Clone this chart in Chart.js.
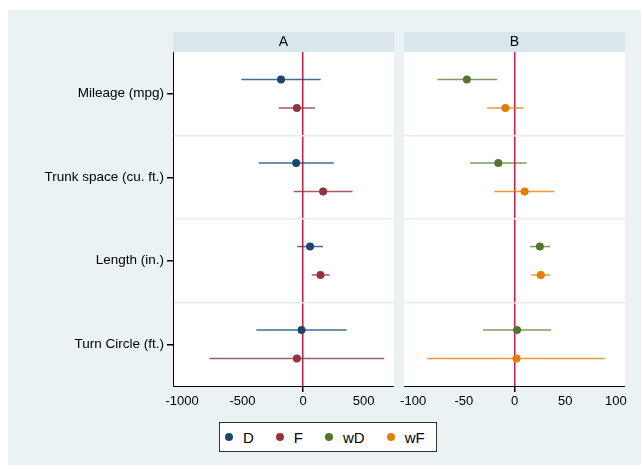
<!DOCTYPE html>
<html>
<head>
<meta charset="utf-8">
<title>Coefficient plot</title>
<script src="https://cdn.jsdelivr.net/npm/chart.js@4/dist/chart.umd.min.js"></script>
<style>
  html, body { margin: 0; padding: 0; background: #fff; }
  #graph { position: absolute; left: 8px; top: 10px; width: 633px; height: 455px; background: #eaf2f3; }
  #canvasA { position: absolute; left: 0; top: 0; }
  #canvasB { position: absolute; left: 390px; top: 0; }
  #legend {
    position: absolute; left: 219px; top: 422px; width: 218px; height: 30px;
    box-sizing: border-box; border: 1px solid #333; background: #fff;
    display: flex; align-items: center; padding-left: 5px;
    font: 15px "Liberation Sans", Arial, sans-serif; color: #000;
  }
  #legend .item { display: flex; align-items: center; margin-right: 22px; }
  #legend .dot { width: 8px; height: 8px; border-radius: 50%; margin-right: 10px; }
</style>
</head>
<body>
<div id="graph"></div>
<canvas id="canvasA" width="400" height="420"></canvas>
<canvas id="canvasB" width="251" height="420"></canvas>
<div id="legend"></div>
<script>
// outcomes, top to bottom
const categories = ['Mileage (mpg)', 'Trunk space (cu. ft.)', 'Length (in.)', 'Turn Circle (ft.)'];

// panel A: estimates with 95% bounds
const dEst = [-182, -57, 58, -12];
const dLo  = [-510, -366, -47, -386];
const dHi  = [146, 254, 165, 361];
const fEst = [-51, 166, 144, -51];
const fLo  = [-201, -77, 72, -774];
const fHi  = [99, 410, 220, 672];

// panel B
const wdEst = [-47, -16, 25, 2.5];
const wdLo  = [-76, -44, 15.5, -31];
const wdHi  = [-17, 12, 35, 36];
const wfEst = [-9, 10, 26, 2];
const wfLo  = [-27, -20, 16.5, -86];
const wfHi  = [9, 39, 35, 89];

const ticksA = [-1000, -500, 0, 500];
const ticksB = [-100, -50, 0, 50, 100];
const rangeA = [-1075, 752];
const rangeB = [-109, 109];

// category centres sit at i + 0.5, band edges at integers
const yTicks = [0.5, 1, 1.5, 2, 2.5, 3, 3.5];

const FONT = '"Liberation Sans", Arial, sans-serif';
const TRANSPARENT = 'rgba(0,0,0,0)';

const seriesA = [
  { name: 'D', color: '#1a476f', line: 'rgba(26,71,111,0.8)', est: dEst, lo: dLo, hi: dHi, shift: -0.17 },
  { name: 'F', color: '#90353b', line: 'rgba(144,53,59,0.8)', est: fEst, lo: fLo, hi: fHi, shift: 0.17 }
];
const seriesB = [
  { name: 'wD', color: '#55752f', line: 'rgba(85,117,47,0.75)', est: wdEst, lo: wdLo, hi: wdHi, shift: -0.17 },
  { name: 'wF', color: '#e37e00', line: 'rgba(227,126,0,0.8)', est: wfEst, lo: wfLo, hi: wfHi, shift: 0.17 }
];

// white plot region plus the shaded strip holding the panel title
const panelBackground = {
  id: 'panelBackground',
  beforeDraw(chart, args, opts) {
    const { ctx, chartArea: a } = chart;
    ctx.save();
    ctx.fillStyle = '#fff';
    ctx.fillRect(a.left, a.top, a.right - a.left, a.bottom - a.top);
    ctx.fillStyle = '#d9e6eb';
    ctx.fillRect(a.left, a.top - 20, a.right - a.left, 20);
    ctx.fillStyle = '#000';
    ctx.font = '14px ' + FONT;
    ctx.textAlign = 'center';
    ctx.textBaseline = 'middle';
    ctx.fillText(opts.title, (a.left + a.right) / 2, a.top - 10);
    ctx.restore();
  }
};

function buildDatasets(series) {
  const sets = [];
  series.forEach(s => {
    sets.push({
      type: 'scatter',
      label: s.name,
      data: s.est.map((v, i) => ({ x: v, y: i + 0.5 + s.shift })),
      backgroundColor: s.color,
      borderWidth: 0,
      pointRadius: 4,
      order: 0
    });
    s.est.forEach((v, i) => {
      sets.push({
        type: 'scatter',
        label: s.name + ' ci',
        data: [{ x: s.lo[i], y: i + 0.5 + s.shift }, { x: s.hi[i], y: i + 0.5 + s.shift }],
        showLine: true,
        borderColor: s.line,
        borderWidth: 1.5,
        pointRadius: 0,
        order: 1
      });
    });
  });
  return sets;
}

function makePanel(id, title, series, xTicks, range, withLabels, padding) {
  return new Chart(document.getElementById(id), {
    type: 'scatter',
    data: { datasets: buildDatasets(series) },
    plugins: [panelBackground],
    options: {
      responsive: false,
      animation: false,
      layout: { padding: padding },
      plugins: {
        legend: { display: false },
        tooltip: { enabled: false },
        panelBackground: { title: title }
      },
      scales: {
        x: {
          type: 'linear',
          min: range[0],
          max: range[1],
          afterBuildTicks: s => { s.ticks = xTicks.map(v => ({ value: v })); },
          afterFit: s => { s.height = 30; },
          ticks: {
            color: '#000',
            font: { family: FONT, size: 13 },
            padding: 2,
            maxRotation: 0,
            autoSkip: false,
            callback: v => String(v)
          },
          border: { display: true, color: '#000', width: 1 },
          grid: {
            drawOnChartArea: true,
            color: c => (c.tick && c.tick.value === 0 ? '#c81d43' : TRANSPARENT),
            lineWidth: c => (c.tick && c.tick.value === 0 ? 1.5 : 0),
            tickColor: '#000',
            tickLength: 6
          }
        },
        y: {
          type: 'linear',
          reverse: true,
          min: 0,
          max: 4,
          afterBuildTicks: s => { s.ticks = yTicks.map(v => ({ value: v })); },
          afterFit: s => { s.width = withLabels ? 173 : 0; },
          ticks: {
            display: withLabels,
            color: '#000',
            font: { family: FONT, size: 13.5 },
            padding: 3,
            autoSkip: false,
            callback: v => (Number.isInteger(v) ? '' : categories[Math.floor(v)])
          },
          border: { display: withLabels, color: '#000', width: 1 },
          grid: {
            color: c => (c.tick && Number.isInteger(c.tick.value) ? '#e4ecef' : TRANSPARENT),
            lineWidth: 1.5,
            drawTicks: withLabels,
            tickColor: c => (c.tick && !Number.isInteger(c.tick.value) ? '#000' : TRANSPARENT),
            tickLength: 6
          }
        }
      }
    }
  });
}

makePanel('canvasA', 'A', seriesA, ticksA, rangeA, true, { top: 52, bottom: 4, left: 0, right: 6 });
makePanel('canvasB', 'B', seriesB, ticksB, rangeB, false, { top: 52, bottom: 4, left: 14, right: 16 });

// shared legend below both panels
const legend = document.getElementById('legend');
seriesA.concat(seriesB).forEach(s => {
  const item = document.createElement('div');
  item.className = 'item';
  item.innerHTML = '<span class="dot" style="background:' + s.color + '"></span><span>' + s.name + '</span>';
  legend.appendChild(item);
});
</script>
</body>
</html>
